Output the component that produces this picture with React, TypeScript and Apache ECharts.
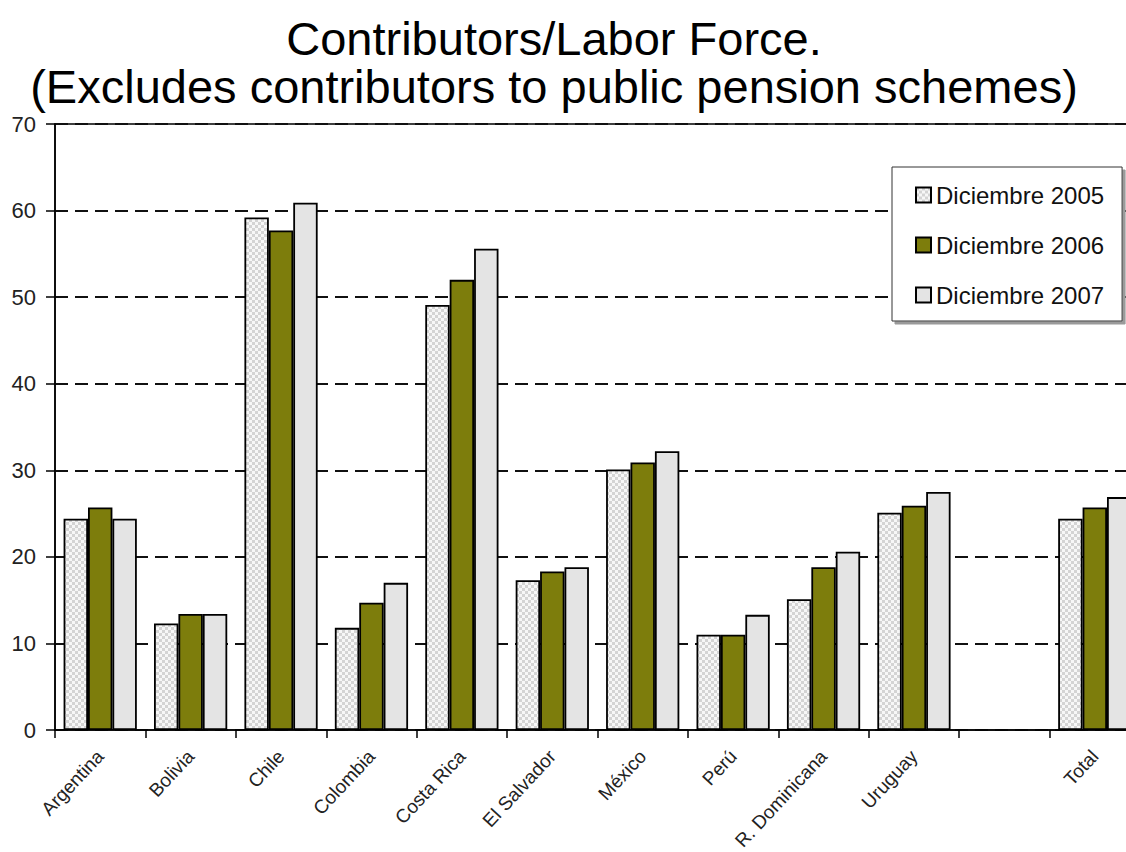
import React, { useEffect, useRef } from "react";
import * as echarts from "echarts";

const categories = ["Argentina", "Bolivia", "Chile", "Colombia", "Costa Rica", "El Salvador", "México", "Perú", "R. Dominicana", "Uruguay", "", "Total"];
const seriesNames = ["Diciembre 2005", "Diciembre 2006", "Diciembre 2007"];
const dic2005 = [24.4, 12.3, 59.2, 11.8, 49.1, 17.3, 30.1, 11.0, 15.1, 25.1, null, 24.4];
const dic2006 = [25.7, 13.4, 57.7, 14.7, 52.0, 18.3, 30.9, 11.0, 18.8, 25.9, null, 25.7];
const dic2007 = [24.4, 13.4, 60.9, 17.0, 55.6, 18.8, 32.2, 13.3, 20.6, 27.5, null, 26.9];
const yTicks = { min: 0, max: 70, interval: 10 };
const titleLines = ["Contributors/Labor Force.", "(Excludes contributors to public pension schemes)"];

const FONT = "'Liberation Sans', Arial, sans-serif";

function makeChecker(): HTMLCanvasElement {
  const c = document.createElement("canvas");
  c.width = 6;
  c.height = 6;
  const ctx = c.getContext("2d")!;
  ctx.fillStyle = "#f7f7f7";
  ctx.fillRect(0, 0, 6, 6);
  ctx.fillStyle = "#d4d4d4";
  ctx.fillRect(0, 0, 3, 3);
  ctx.fillRect(3, 3, 3, 3);
  return c;
}

export default function App() {
  const ref = useRef<HTMLDivElement>(null);
  useEffect(() => {
    if (!ref.current) return;
    const chart = echarts.init(ref.current, null, { renderer: "svg" });
    const checker = makeChecker();
    const pattern: any = { image: checker, repeat: "repeat", imageWidth: 6, imageHeight: 6 };
    const border = { borderColor: "#000", borderWidth: 1.8 };
    const colors = [pattern, "#7d7d0c", "#e4e4e4"];
    const datas = [dic2005, dic2006, dic2007];
    chart.setOption({
      animation: false,
      backgroundColor: "#fff",
      title: {
        text: titleLines.join("\n"),
        left: 549,
        textAlign: "center",
        top: 9,
        textStyle: { fontFamily: FONT, fontSize: 47, fontWeight: "normal", color: "#000", lineHeight: 48 },
      },
      legend: {
        orient: "vertical",
        left: 892,
        top: 167,
        padding: [16, 18, 14, 23],
        itemWidth: 15,
        itemHeight: 15,
        itemGap: 26,
        icon: "rect",
        backgroundColor: "#fff",
        borderColor: "#333",
        borderWidth: 1,
        shadowColor: "#9a9a9a",
        shadowOffsetX: 3,
        shadowOffsetY: 3,
        shadowBlur: 0,
        textStyle: { fontFamily: FONT, fontSize: 24, lineHeight: 24, color: "#111" },
        data: seriesNames,
      },
      grid: {
        left: 55,
        right: 5,
        top: 124,
        bottom: 122,
        containLabel: false,
        outerBoundsMode: "none",
        show: true,
        borderColor: "#000",
        borderWidth: 1.5,
      },
      xAxis: {
        type: "category",
        data: categories,
        axisLine: { lineStyle: { color: "#000", width: 1.5 } },
        axisTick: { show: true, length: 8, lineStyle: { color: "#000", width: 1.5 } },
        axisLabel: {
          rotate: 47,
          interval: 0,
          margin: 23,
          fontFamily: FONT,
          fontSize: 19,
          color: "#222",
        },
      },
      yAxis: {
        type: "value",
        min: yTicks.min,
        max: yTicks.max,
        interval: yTicks.interval,
        axisLine: { show: true, lineStyle: { color: "#000", width: 1.5 } },
        axisTick: { show: true, length: 9, lineStyle: { color: "#000", width: 1.5 } },
        axisLabel: { margin: 19, fontFamily: FONT, fontSize: 22, color: "#222" },
        splitLine: { show: true, lineStyle: { color: "#111", width: 2, type: [13, 7] } },
      },
      series: seriesNames.map((name, i) => ({
        name,
        type: "bar",
        data: datas[i],
        barGap: "0%",
        barCategoryGap: "19%",
        itemStyle: { color: colors[i], ...border },
      })),
    });
    return () => chart.dispose();
  }, []);
  return (
    <div style={{ position: "fixed", left: 0, top: 0, width: 1126, height: 852, overflow: "hidden", background: "#fff" }}>
      <div ref={ref} style={{ width: 1145, height: 852 }} />
    </div>
  );
}
